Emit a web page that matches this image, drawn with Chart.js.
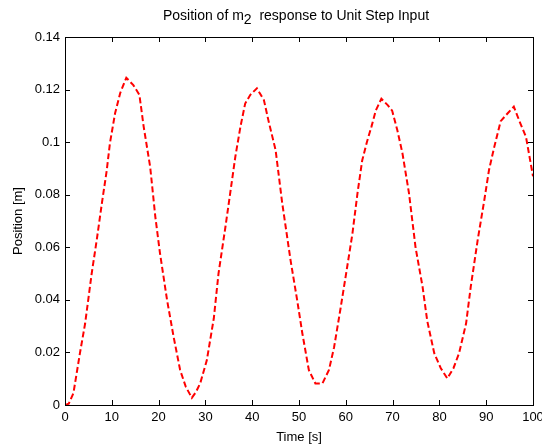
<!DOCTYPE html>
<html lang="en">
<head>
    <meta charset="UTF-8">
    <title>Position of m2 response to Unit Step Input</title>
    <script src="https://cdn.jsdelivr.net/npm/chart.js"></script>
    <style>
        body { margin: 0; background: #fff; }
        .wrap { width: 542px; height: 445px; position: relative; }
    </style>
</head>
<body>
    <div class="wrap">
        <canvas id="myChart"></canvas>
    </div>

    <script>
        // values
        const timeValues = [0, 0.8, 1.8, 3.2, 4.3, 5.7, 6.8, 7.9, 8.9, 9.6, 10.7, 11.8, 13.1, 14.6, 15.9, 16.8, 18.2, 19.3, 20.3, 21.8,
            23.2, 24.6, 25.8, 27.1, 28.0, 28.9, 30.3, 31.8, 32.8, 34.3, 35.3, 36.4, 37.5, 38.5, 39.6, 41.0, 42.5, 43.5, 45.0, 46.4,
            48.2, 49.6, 50.7, 52.1, 53.5, 55.0, 56.4, 57.5, 58.9, 60.3, 61.4, 62.5, 63.5, 64.5, 65.5, 66.4, 67.6, 69.0, 69.9, 71.0,
            72.1, 73.5, 74.9, 76.4, 77.4, 78.9, 80.3, 81.7, 83.0, 84.2, 85.7, 86.7, 88.2, 89.6, 90.6, 91.7, 93.1, 94.6, 95.9, 97.1,
            98.5, 100];
        const positionValues = [0, 0.0005, 0.0045, 0.0198, 0.031, 0.050, 0.063, 0.077, 0.089, 0.0996, 0.111, 0.1187, 0.1245, 0.1217, 0.118, 0.106, 0.0906, 0.0716, 0.0577, 0.040,
            0.026, 0.0133, 0.007, 0.0027, 0.005, 0.0083, 0.017, 0.033, 0.050, 0.068, 0.0806, 0.0945, 0.106, 0.1147, 0.118, 0.1205, 0.116, 0.108, 0.097, 0.077,
            0.055, 0.040, 0.0274, 0.0133, 0.0082, 0.0082, 0.0133, 0.022, 0.037, 0.0526, 0.065, 0.0806, 0.093, 0.100, 0.106, 0.112, 0.1165, 0.114, 0.112, 0.1046,
            0.0958, 0.0806, 0.060, 0.045, 0.032, 0.0197, 0.014, 0.0101, 0.014, 0.0197, 0.031, 0.045, 0.063, 0.078, 0.0894, 0.098, 0.108, 0.111, 0.1135, 0.108,
            0.102, 0.087];
        const xTicks = [0, 10, 20, 30, 40, 50, 60, 70, 80, 90, 100];
        const yTicks = [0, 0.02, 0.04, 0.06, 0.08, 0.1, 0.12, 0.14];

        // title in three parts so the 2 can sit as a real subscript
        const titleParts = ['Position of m', '2', '  response to Unit Step Input'];
        const FONT = '"Liberation Sans", Arial, sans-serif';

        // box round the plot, inward ticks on all four sides, title on top
        const matlabFrame = {
            id: 'matlabFrame',
            afterDraw(chart) {
                const { ctx, chartArea: a, scales } = chart;
                ctx.save();
                ctx.strokeStyle = '#000';
                ctx.lineWidth = 1;
                ctx.strokeRect(a.left + 0.5, a.top + 0.5, a.right - a.left, a.bottom - a.top);
                ctx.beginPath();
                scales.x.ticks.forEach(t => {
                    const px = Math.round(scales.x.getPixelForValue(t.value)) + 0.5;
                    ctx.moveTo(px, a.bottom); ctx.lineTo(px, a.bottom - 5);
                    ctx.moveTo(px, a.top); ctx.lineTo(px, a.top + 5);
                });
                scales.y.ticks.forEach(t => {
                    const py = Math.round(scales.y.getPixelForValue(t.value)) + 0.5;
                    ctx.moveTo(a.left, py); ctx.lineTo(a.left + 5, py);
                    ctx.moveTo(a.right, py); ctx.lineTo(a.right - 5, py);
                });
                ctx.stroke();

                ctx.fillStyle = '#000';
                ctx.font = '14px ' + FONT;
                ctx.textAlign = 'left';
                ctx.textBaseline = 'alphabetic';
                const widths = titleParts.map(p => ctx.measureText(p).width);
                const total = widths.reduce((s, w) => s + w, 0);
                let x = (a.left + a.right) / 2 - 3 - total / 2;
                const base = 20;
                titleParts.forEach((p, i) => {
                    ctx.fillText(p, x, i === 1 ? base + 4 : base);
                    x += widths[i];
                });
                ctx.restore();
            }
        };

        const config = {
            type: 'line',
            data: {
                datasets: [{
                    label: 'Position',
                    data: timeValues.map((t, i) => ({ x: t, y: positionValues[i] })),
                    borderColor: '#ff0000',
                    borderWidth: 2,
                    borderDash: [6, 3],
                    pointRadius: 0,
                    tension: 0,
                    fill: false
                }]
            },
            options: {
                responsive: true,
                maintainAspectRatio: false,
                animation: false,
                layout: { padding: { top: 37, right: 9, left: 0, bottom: 0 } },
                plugins: {
                    legend: { display: false },
                    tooltip: { enabled: false }
                },
                scales: {
                    x: {
                        type: 'linear',
                        min: 0,
                        max: 100,
                        afterBuildTicks: s => { s.ticks = xTicks.map(v => ({ value: v })); },
                        afterFit: s => { s.height = 40; s.paddingLeft = 0; s.paddingRight = 0; },
                        grid: { display: false, drawTicks: false },
                        border: { display: false },
                        ticks: { color: '#000', padding: 5, maxRotation: 0, font: { family: FONT, size: 13 } },
                        title: { display: true, text: 'Time [s]', color: '#000', padding: { top: 0, bottom: 0 }, font: { family: FONT, size: 13 } }
                    },
                    y: {
                        min: 0,
                        max: 0.14,
                        afterBuildTicks: s => { s.ticks = yTicks.map(v => ({ value: v })); },
                        afterFit: s => { s.width = 65; s.paddingTop = 0; s.paddingBottom = 0; },
                        grid: { display: false, drawTicks: false },
                        border: { display: false },
                        ticks: { color: '#000', padding: 5, font: { family: FONT, size: 13 }, callback: v => String(v) },
                        title: { display: true, text: 'Position [m]', color: '#000', padding: { top: 11, bottom: 0 }, font: { family: FONT, size: 13 } }
                    }
                }
            },
            plugins: [matlabFrame]
        };

        const ctx = document.getElementById('myChart').getContext('2d');
        const myChart = new Chart(ctx, config);
    </script>
</body>
</html>
